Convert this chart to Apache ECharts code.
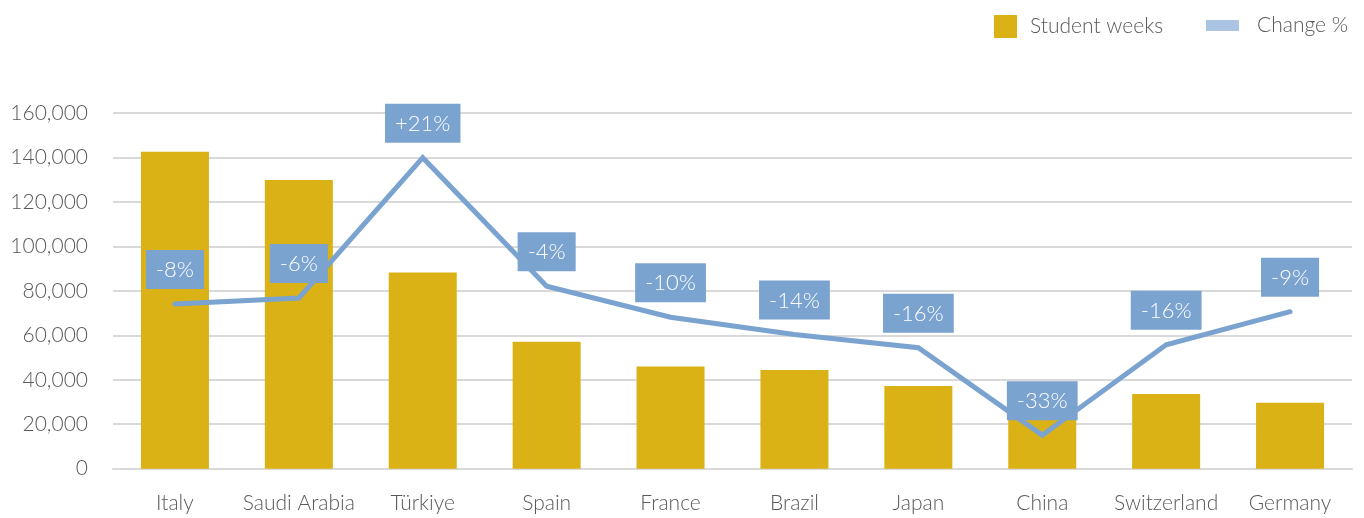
<!DOCTYPE html>
<html>
<head>
<meta charset="utf-8">
<script src="https://cdn.jsdelivr.net/npm/echarts@6/dist/echarts.min.js"></script>
<style>
html,body{margin:0;padding:0;background:#fff;}
#chart{width:1364px;height:518px;}
</style>
</head>
<body>
<div id="chart"></div>
<script>
var categories = ['Italy', 'Saudi Arabia', 'Türkiye', 'Spain', 'France', 'Brazil', 'Japan', 'China', 'Switzerland', 'Germany'];
var studentWeeks = [142600, 129900, 88300, 57100, 46000, 44400, 37200, 24000, 33600, 29700];
var changePct = [-7.6, -6.4, 21.2, -4.1, -10.2, -13.6, -16.2, -33.4, -15.6, -9.1];
var yTicks = [0, 20000, 40000, 60000, 80000, 100000, 120000, 140000, 160000];

var FONT = 'Lato, "Noto Sans", sans-serif';
var WEIGHT = 300;
var GREY = '#595959';
var GOLD = '#DAB216';
var BLUE = '#7BA3D0';

var chart = echarts.init(document.getElementById('chart'), null, {renderer: 'canvas'});
chart.setOption({
  animation: false,
  backgroundColor: '#ffffff',
  textStyle: {fontFamily: FONT},
  legend: [
    {
      left: 994, top: 13, padding: 0,
      itemWidth: 23, itemHeight: 23,
      data: [{name: 'Student weeks', icon: 'rect'}],
      textStyle: {color: GREY, fontSize: 21, fontWeight: WEIGHT, fontFamily: FONT, lineHeight: 25, padding: [2, 0, 0, 8]},
      selectedMode: false
    },
    {
      left: 1206, top: 12, padding: 0,
      itemWidth: 33, itemHeight: 11,
      data: [{name: 'Change %', icon: 'rect', itemStyle: {color: '#ABC4E4'}}],
      textStyle: {color: GREY, fontSize: 21, fontWeight: WEIGHT, fontFamily: FONT, lineHeight: 25, padding: [2, 0, 0, 13]},
      selectedMode: false
    }
  ],
  grid: {left: 113, right: 12, top: 113, bottom: 49.3, containLabel: false},
  xAxis: {
    type: 'category',
    data: categories,
    axisTick: {show: false},
    axisLine: {lineStyle: {color: '#D9D9D9', width: 2}},
    axisLabel: {color: GREY, fontSize: 21, fontWeight: WEIGHT, fontFamily: FONT, margin: 24, interval: 0}
  },
  yAxis: [
    {
      type: 'value',
      min: yTicks[0], max: yTicks[yTicks.length - 1], interval: yTicks[1] - yTicks[0],
      axisLine: {show: false},
      axisTick: {show: false},
      splitLine: {lineStyle: {color: '#D9D9D9', width: 2}},
      axisLabel: {
        color: GREY, fontSize: 21, fontWeight: WEIGHT, fontFamily: FONT, margin: 25,
        formatter: function (v) { return v.toLocaleString('en-US'); }
      }
    },
    {
      type: 'value', min: -40, max: 30, show: false,
      splitLine: {show: false}
    }
  ],
  series: [
    {
      name: 'Student weeks',
      type: 'bar',
      data: studentWeeks,
      barWidth: 68,
      itemStyle: {color: GOLD},
      z: 2
    },
    {
      name: 'Change %',
      type: 'line',
      yAxisIndex: 1,
      data: changePct,
      symbol: 'circle',
      symbolSize: 1,
      itemStyle: {color: BLUE},
      lineStyle: {color: BLUE, width: 5, cap: 'round', join: 'miter'},
      label: {
        show: true,
        position: 'top',
        distance: 14.5,
        backgroundColor: BLUE,
        color: '#ffffff',
        fontSize: 22,
        fontWeight: WEIGHT,
        fontFamily: FONT,
        lineHeight: 26,
        padding: [7, 10, 6, 10],
        formatter: function (p) {
          var r = Math.round(p.value);
          return (r > 0 ? '+' : '') + r + '%';
        }
      },
      z: 3
    }
  ]
});
</script>
</body>
</html>
